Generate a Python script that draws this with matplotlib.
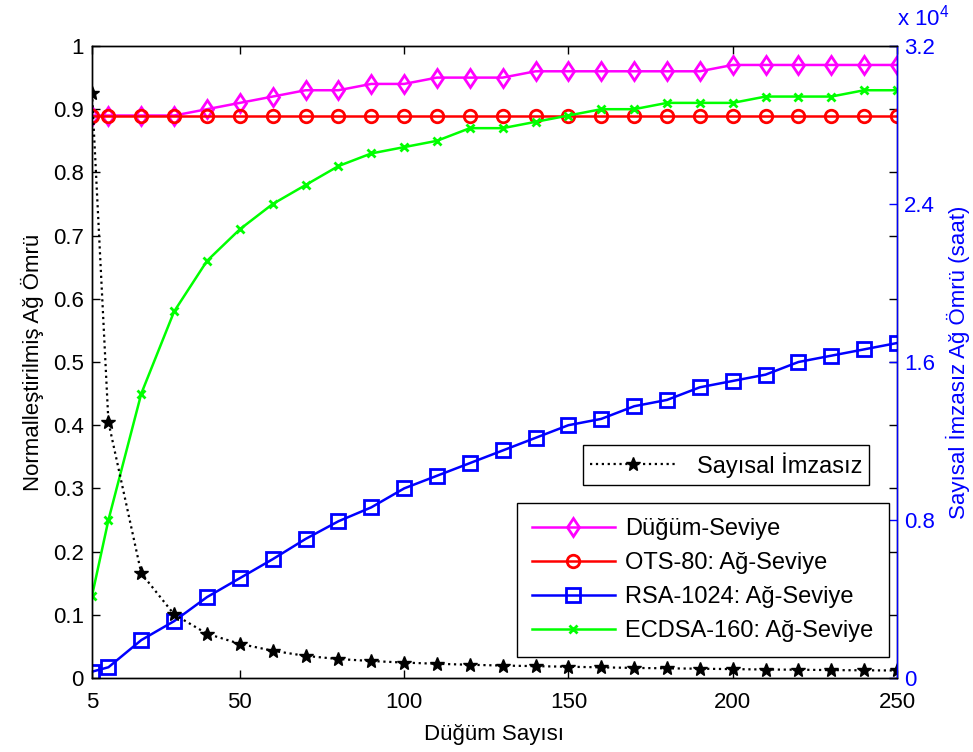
import matplotlib
matplotlib.use('Agg')
import matplotlib.pyplot as plt

plt.rcParams['font.family'] = ['Liberation Sans', 'DejaVu Sans']
plt.rcParams['mathtext.fontset'] = 'custom'
plt.rcParams['mathtext.rm'] = 'Liberation Sans'
plt.rcParams['font.size'] = 16

# düğüm sayıları
dugum = [5, 10, 20, 30, 40, 50, 60, 70, 80, 90, 100, 110, 120, 130,
         140, 150, 160, 170, 180, 190, 200, 210, 220, 230, 240, 250]

# normalleştirilmiş ağ ömrü (sol eksen)
dugum_seviye = [0.89, 0.89, 0.89, 0.89, 0.90, 0.91, 0.92, 0.93, 0.93, 0.94, 0.94, 0.95, 0.95,
                0.95, 0.96, 0.96, 0.96, 0.96, 0.96, 0.96, 0.97, 0.97, 0.97, 0.97, 0.97, 0.97]
ots80 = [0.89] * 26
rsa1024 = [0.01, 0.017, 0.06, 0.09, 0.128, 0.158, 0.188, 0.22, 0.248, 0.27, 0.30, 0.32, 0.34,
           0.36, 0.38, 0.40, 0.41, 0.43, 0.44, 0.46, 0.47, 0.48, 0.50, 0.51, 0.52, 0.53]
ecdsa160 = [0.13, 0.25, 0.45, 0.58, 0.66, 0.71, 0.75, 0.78, 0.81, 0.83, 0.84, 0.85, 0.87,
            0.87, 0.88, 0.89, 0.90, 0.90, 0.91, 0.91, 0.91, 0.92, 0.92, 0.92, 0.93, 0.93]

# imzasız ağ ömrü, saat (sağ eksen)
imzasiz = [29600, 12960, 5300, 3220, 2240, 1730, 1380, 1120, 960, 860, 780, 720, 670,
           630, 600, 570, 540, 510, 490, 470, 450, 430, 420, 400, 390, 380]

sag_ticks = [0, 8000, 16000, 24000, 32000]
sag_etiket = ['0', '0.8', '1.6', '2.4', '3.2']

fig = plt.figure(figsize=(9.73, 7.52), dpi=100)
ax = fig.add_axes([92/973, 1 - 678/752, 805/973, 632/752])
ax2 = ax.twinx()

l1, = ax.plot(dugum, dugum_seviye, color='magenta', lw=1.8, marker='d', ms=9.5,
              mfc='none', mew=2, label='Düğüm-Seviye')
l2, = ax.plot(dugum, ots80, color='red', lw=1.8, marker='o', ms=9,
              mfc='none', mew=2, label='OTS-80: Ağ-Seviye')
l3, = ax.plot(dugum, rsa1024, color='blue', lw=1.8, marker='s', ms=10,
              mfc='none', mew=2, label='RSA-1024: Ağ-Seviye')
l4, = ax.plot(dugum, ecdsa160, color='#00ff00', lw=1.8, marker='x', ms=6,
              mew=2, label='ECDSA-160: Ağ-Seviye')

l5, = ax2.plot(dugum, imzasiz, color='black', lw=1.6, ls=':', marker='*', ms=10,
               label='Sayısal İmzasız')

ax.set_xlim(5, 250)
ax.set_ylim(0, 1)
ax.set_xticks([5, 50, 100, 150, 200, 250])
ax.set_yticks([0, 0.1, 0.2, 0.3, 0.4, 0.5, 0.6, 0.7, 0.8, 0.9, 1])
ax.set_yticklabels(['0', '0.1', '0.2', '0.3', '0.4', '0.5', '0.6', '0.7', '0.8', '0.9', '1'])
ax.tick_params(direction='in', length=6, top=True, right=True, width=1)
ax.tick_params(axis='x', pad=10)
ax.tick_params(axis='y', pad=6)
ax.set_xlabel('Düğüm Sayısı', labelpad=8)
ax.set_ylabel('Normalleştirilmiş Ağ Ömrü', labelpad=6)

ax2.set_ylim(0, 32000)
ax2.set_yticks(sag_ticks)
ax2.set_yticklabels(sag_etiket)
ax2.tick_params(axis='y', direction='in', length=6, colors='blue', width=1, pad=5)
ax2.spines['right'].set_color('blue')
ax2.set_ylabel('Sayısal İmzasız Ağ Ömrü (saat)', color='blue', labelpad=8)
ax2.text(1.0, 1.025, r'x $10^4$', transform=ax2.transAxes, color='blue',
         ha='left', va='bottom', fontsize=16)

for a in (ax, ax2):
    for s in a.spines.values():
        s.set_linewidth(1)

leg1 = ax2.legend(handles=[l5], loc='upper right', bbox_to_anchor=(869/973, 1 - 445/752),
                  bbox_transform=fig.transFigure, fancybox=False, edgecolor='black',
                  framealpha=1, handlelength=3.6, handletextpad=0.9, borderpad=0.3,
                  borderaxespad=0, fontsize=17)
leg1.get_frame().set_linewidth(1)
ax2.add_artist(leg1)

leg2 = ax2.legend(handles=[l1, l2, l3, l4], loc='upper right',
                  bbox_to_anchor=(889/973, 1 - 503/752), bbox_transform=fig.transFigure,
                  fancybox=False, edgecolor='black', framealpha=1, handlelength=3.5,
                  handletextpad=0.45, labelspacing=0.5, borderpad=0.65, borderaxespad=0,
                  fontsize=17)
leg2.get_frame().set_linewidth(1)

fig.savefig('out.png', dpi=100, facecolor='white')
